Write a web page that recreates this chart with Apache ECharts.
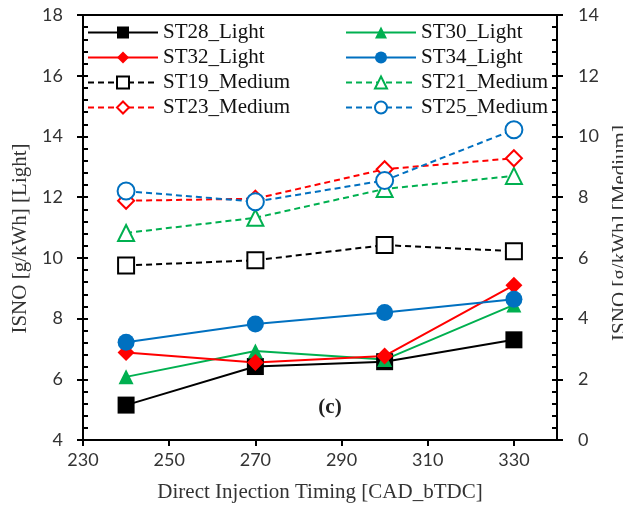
<!DOCTYPE html>
<html><head><meta charset="utf-8">
<script src="https://cdn.jsdelivr.net/npm/echarts@6/dist/echarts.min.js"></script>
<style>html,body{margin:0;padding:0;background:#fff;overflow:hidden}#c{position:absolute;left:0;top:0;width:623px;height:506px}</style>
</head><body><div id="c"></div>
<script>
const xValues = [240, 270, 300, 330];
const xTickLabels = [230, 250, 270, 290, 310, 330];
const st28Light = [5.15, 6.42, 6.58, 7.3];
const st30Light = [6.08, 6.93, 6.65, 8.45];
const st32Light = [6.88, 6.55, 6.77, 9.1];
const st34Light = [7.22, 7.82, 8.2, 8.64];
const st19Medium = [5.75, 5.92, 6.42, 6.22];
const st21Medium = [6.82, 7.32, 8.27, 8.7];
const st23Medium = [7.88, 7.95, 8.92, 9.28];
const st25Medium = [8.2, 7.85, 8.55, 10.22];

const pair = arr => xValues.map((x, i) => [x, arr[i]]);
const BLACK = '#000000', GREEN = '#00B050', RED = '#FF0000', BLUE = '#0070C0';
const serif = '"Liberation Serif", "DejaVu Serif", serif';
const sans = 'Lato, "Open Sans", sans-serif';

function mk(name, data, color, symbol, size, yIdx, dashed) {
  return {
    name, type: 'line', data: pair(data), yAxisIndex: yIdx,
    symbol, symbolSize: size,
    lineStyle: { color, width: 2, type: dashed ? [6, 4] : 'solid' },
    itemStyle: { color, borderColor: color, borderWidth: dashed ? 2 : 0 },
    emphasis: { disabled: true }, animation: false
  };
}

const series = [
  mk('ST28_Light', st28Light, BLACK, 'rect', 17, 0, false),
  mk('ST30_Light', st30Light, GREEN, 'triangle', 15, 0, false),
  mk('ST32_Light', st32Light, RED, 'diamond', 17, 0, false),
  mk('ST34_Light', st34Light, BLUE, 'circle', 17, 0, false),
  mk('ST19_Medium', st19Medium, BLACK, 'emptyRect', 16, 1, true),
  mk('ST21_Medium', st21Medium, GREEN, 'emptyTriangle', 16, 1, true),
  mk('ST23_Medium', st23Medium, RED, 'emptyDiamond', 16, 1, true),
  mk('ST25_Medium', st25Medium, BLUE, 'emptyCircle', 17, 1, true)
];

const legendBase = {
  orient: 'vertical', top: 22, padding: 0, itemGap: 4,
  itemWidth: 70, itemHeight: 15, itemTextGap: 6,
  textStyle: { fontFamily: serif, fontSize: 21, color: '#111', lineHeight: 21 },
  selectedMode: false
};

const axisLine = { show: true, lineStyle: { color: '#000', width: 2 } };
const yLabel = { fontFamily: sans, fontSize: 18, color: '#333' };
const tickStyle = { color: '#000', width: 2 };

const option = {
  backgroundColor: '#fff',
  animation: false,
  grid: { left: 83, right: 66, top: 15, bottom: 66, show: true, borderColor: '#000', borderWidth: 2,
          containLabel: false, outerBoundsMode: 'none' },
  legend: [
    Object.assign({}, legendBase, { left: 87, data: ['ST28_Light', 'ST32_Light', 'ST19_Medium', 'ST23_Medium'] }),
    Object.assign({}, legendBase, { left: 345, data: ['ST30_Light', 'ST34_Light', 'ST21_Medium', 'ST25_Medium'] })
  ],
  xAxis: {
    type: 'value', min: 230, max: 340,
    axisLine,
    axisTick: { show: true, inside: false, length: 6, lineStyle: tickStyle, customValues: xTickLabels },
    axisLabel: { fontFamily: sans, fontSize: 18, color: '#333', margin: 11, customValues: xTickLabels },
    splitLine: { show: false },
    name: 'Direct Injection Timing [CAD_bTDC]', nameLocation: 'middle', nameGap: 42,
    nameTextStyle: { fontFamily: serif, fontSize: 21, color: '#333' }
  },
  yAxis: [
    {
      type: 'value', position: 'left', min: 4, max: 18, interval: 2,
      axisLine,
      axisTick: { show: true, inside: true, length: 5, lineStyle: tickStyle },
      minorTick: { show: true, splitNumber: 5, length: 5, lineStyle: tickStyle },
      axisLabel: Object.assign({ margin: 20 }, yLabel),
      splitLine: { show: false },
      name: 'ISNO [g/kWh] [Light]', nameLocation: 'middle', nameGap: 49, nameRotate: 90,
      nameTextStyle: { fontFamily: serif, fontSize: 21, color: '#333', padding: [0, 22, 0, 0] }
    },
    {
      type: 'value', position: 'right', min: 0, max: 14, interval: 2,
      axisLine,
      axisTick: { show: true, inside: true, length: 5, lineStyle: tickStyle },
      minorTick: { show: true, splitNumber: 5, length: 5, lineStyle: tickStyle },
      axisLabel: Object.assign({ margin: 21 }, yLabel),
      splitLine: { show: false },
      name: 'ISNO [g/kWh] [Medium]', nameLocation: 'middle', nameGap: 50, nameRotate: 90,
      nameTextStyle: { fontFamily: serif, fontSize: 21, color: '#333', padding: [0, 11, 0, 0] }
    },
    {
      type: 'value', position: 'left', min: 4, max: 18, interval: 2,
      axisLine: { show: false },
      axisTick: { show: true, inside: false, length: 6, lineStyle: tickStyle },
      axisLabel: { show: false }, splitLine: { show: false }
    },
    {
      type: 'value', position: 'right', min: 0, max: 14, interval: 2,
      axisLine: { show: false },
      axisTick: { show: true, inside: false, length: 6, lineStyle: tickStyle },
      axisLabel: { show: false }, splitLine: { show: false }
    }
  ],
  graphic: [{
    type: 'text', x: 330, y: 408,
    style: { text: '(c)', font: 'bold 21px ' + serif, fill: '#222', textAlign: 'center', textVerticalAlign: 'middle' }
  }],
  series
};

const chart = echarts.init(document.getElementById('c'), null, { renderer: 'canvas' });
chart.setOption(option);
</script>
</body></html>
